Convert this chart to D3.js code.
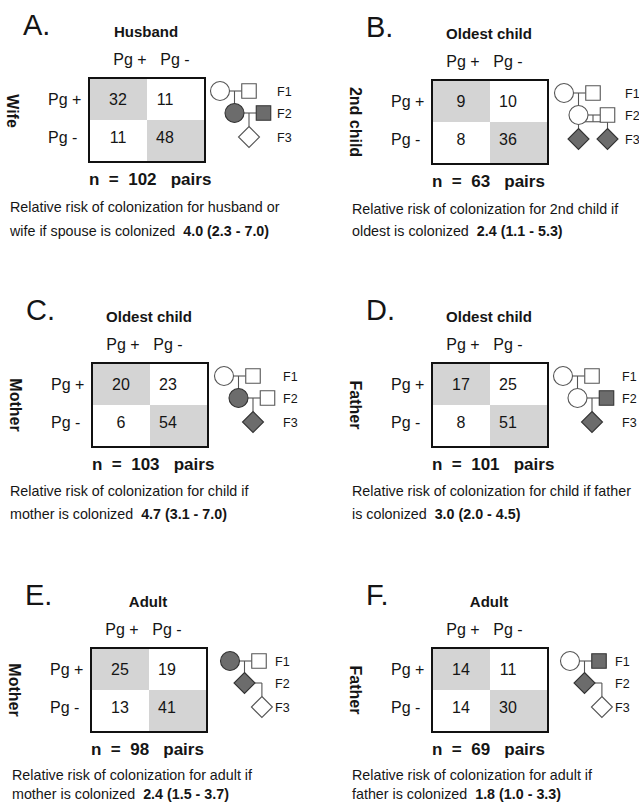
<!DOCTYPE html>
<html>
<head>
<meta charset="utf-8">
<script src="https://cdn.jsdelivr.net/npm/d3@7/dist/d3.min.js"></script>
<style>
  html, body { margin: 0; padding: 0; background: #fff; }
  svg { display: block; }
  text { font-family: "Liberation Sans", Arial, Helvetica, sans-serif; fill: #151515; white-space: pre; }
</style>
</head>
<body>
<div id="chart"></div>
<script>
// ---- data ----
const letters = ["A.", "B.", "C.", "D.", "E.", "F."];
const colTitles = ["Husband", "Oldest child", "Oldest child", "Oldest child", "Adult", "Adult"];
const rowTitles = ["Wife", "2nd child", "Mother", "Father", "Mother", "Father"];
const statusLabels = ["Pg +", "Pg -"];
const genLabels = ["F1", "F2", "F3"];

// 2x2 tables: [row Pg+, row Pg-] x [col Pg+, col Pg-]
const counts = [
  [[32, 11], [11, 48]],
  [[9, 10], [8, 36]],
  [[20, 23], [6, 54]],
  [[17, 25], [8, 51]],
  [[25, 19], [13, 41]],
  [[14, 11], [14, 30]]
];
const nPairs = [102, 63, 103, 101, 98, 69];

const rrLine1 = [
  "Relative risk of colonization for husband or",
  "Relative risk of colonization for 2nd child if",
  "Relative risk of colonization for child if",
  "Relative risk of colonization for child if father",
  "Relative risk of colonization for adult if",
  "Relative risk of colonization for adult if"
];
const rrLine2 = [
  "wife if spouse is colonized  ",
  "oldest is colonized  ",
  "mother is colonized  ",
  "is colonized  ",
  "mother is colonized  ",
  "father is colonized  "
];
const rrValues = ["4.0 (2.3 - 7.0)", "2.4 (1.1 - 5.3)", "4.7 (3.1 - 7.0)",
                  "3.0 (2.0 - 4.5)", "2.4 (1.5 - 3.7)", "1.8 (1.0 - 3.3)"];

// pedigrees: shape, slot (horizontal unit), gen, filled (colonized)
const pedigrees = [
  { members: [
      { shape: "circle", slot: 0, gen: 0, filled: false },
      { shape: "square", slot: 2, gen: 0, filled: false },
      { shape: "circle", slot: 1, gen: 1, filled: true },
      { shape: "square", slot: 3, gen: 1, filled: true },
      { shape: "diamond", slot: 2, gen: 2, filled: false }],
    families: [{ parents: [0, 1], children: [2] }, { parents: [2, 3], children: [4] }] },
  { members: [
      { shape: "circle", slot: 0, gen: 0, filled: false },
      { shape: "square", slot: 2, gen: 0, filled: false },
      { shape: "circle", slot: 1, gen: 1, filled: false },
      { shape: "square", slot: 3, gen: 1, filled: false },
      { shape: "diamond", slot: 1, gen: 2, filled: true },
      { shape: "diamond", slot: 3, gen: 2, filled: true }],
    families: [{ parents: [0, 1], children: [2] }, { parents: [2, 3], children: [4, 5] }] },
  { members: [
      { shape: "circle", slot: 0, gen: 0, filled: false },
      { shape: "square", slot: 2, gen: 0, filled: false },
      { shape: "circle", slot: 1, gen: 1, filled: true },
      { shape: "square", slot: 3, gen: 1, filled: false },
      { shape: "diamond", slot: 2, gen: 2, filled: true }],
    families: [{ parents: [0, 1], children: [2] }, { parents: [2, 3], children: [4] }] },
  { members: [
      { shape: "circle", slot: 0, gen: 0, filled: false },
      { shape: "square", slot: 2, gen: 0, filled: false },
      { shape: "circle", slot: 1, gen: 1, filled: false },
      { shape: "square", slot: 3, gen: 1, filled: true },
      { shape: "diamond", slot: 2, gen: 2, filled: true }],
    families: [{ parents: [0, 1], children: [2] }, { parents: [2, 3], children: [4] }] },
  { members: [
      { shape: "circle", slot: 0, gen: 0, filled: true },
      { shape: "square", slot: 2, gen: 0, filled: false },
      { shape: "diamond", slot: 1, gen: 1, filled: true },
      { shape: "diamond", slot: 2.2, gen: 2, filled: false }],
    families: [{ parents: [0, 1], children: [2] }, { parents: [2], children: [3] }] },
  { members: [
      { shape: "circle", slot: 0, gen: 0, filled: false },
      { shape: "square", slot: 2, gen: 0, filled: true },
      { shape: "diamond", slot: 1, gen: 1, filled: true },
      { shape: "diamond", slot: 2.2, gen: 2, filled: false }],
    families: [{ parents: [0, 1], children: [2] }, { parents: [2], children: [3] }] }
];

// ---- layout (box origin, pedigree origin, label column, small tweaks) ----
const layout = [
  { bx: 89,  by: 78,  pedX: 220, labX: 277, textX: 10,  hdrShift: 10, rowTitleDy: -9, rr: [50, 74] },
  { bx: 432, by: 80,  pedX: 564, labX: 625, textX: 352, hdrShift: 0,  rowTitleDy: 0,  rr: [50, 72] },
  { bx: 92,  by: 363, pedX: 224, labX: 283, textX: 10,  hdrShift: 0,  rowTitleDy: 0,  rr: [49, 72] },
  { bx: 432, by: 363, pedX: 563, labX: 622, textX: 352, hdrShift: 0,  rowTitleDy: 0,  rr: [49, 72] },
  { bx: 91,  by: 648, pedX: 230, labX: 275, textX: 12,  hdrShift: 0,  rowTitleDy: 0,  rr: [48, 67] },
  { bx: 432, by: 648, pedX: 570, labX: 615, textX: 352, hdrShift: 0,  rowTitleDy: 0,  rr: [48, 67] }
];

const W = 639, H = 803;
const BOX_W = 116, BOX_H = 84;
const SHADE = "#d4d4d4";
const DARK = "#6c6c6c";
const R_CIRC = 9.5, SQ = 14.5, DIA = 10.5, UNIT = 14.5;

const svg = d3.select("#chart").append("svg")
  .attr("width", W).attr("height", H)
  .attr("viewBox", `0 0 ${W} ${H}`);

svg.append("rect").attr("width", W).attr("height", H).attr("fill", "#fff");

function halfWidth(m) {
  return m.shape === "circle" ? R_CIRC : m.shape === "square" ? SQ / 2 : DIA;
}

letters.forEach((letter, p) => {
  const L = layout[p];
  const g = svg.append("g").attr("class", "panel");

  const x = d3.scaleBand().domain(statusLabels).range([L.bx, L.bx + BOX_W]);
  const y = d3.scaleBand().domain(statusLabels).range([L.by, L.by + BOX_H]);
  const rowDy = [0, -4];       // lower row text sits a bit high in the original
  const colDx = [0, -11];      // right column numbers sit left of center

  // panel letter
  g.append("text")
    .attr("x", L.bx - 66).attr("y", L.by - 43)
    .style("font-size", "29px")
    .text(letter);

  // column title
  g.append("text")
    .attr("x", L.bx + 57).attr("y", L.by - 41)
    .attr("text-anchor", "middle")
    .style("font-size", "15px").style("font-weight", "bold")
    .text(colTitles[p]);

  // column headers
  g.selectAll(".colhdr")
    .data(statusLabels)
    .join("text")
    .attr("class", "colhdr")
    .attr("x", (d, j) => x(d) + x.bandwidth() / 2 + [2, -11][j] + L.hdrShift)
    .attr("y", L.by - 13)
    .attr("text-anchor", "middle")
    .style("font-size", "16px")
    .text(d => d);

  // row headers
  g.selectAll(".rowhdr")
    .data(statusLabels)
    .join("text")
    .attr("class", "rowhdr")
    .attr("x", L.bx - 41)
    .attr("y", (d, i) => y(d) + y.bandwidth() / 2 + 6 + rowDy[i])
    .style("font-size", "16px")
    .text(d => d);

  // row title (rotated)
  const rtx = L.bx - 82, rty = L.by + BOX_H / 2 + L.rowTitleDy;
  g.append("text")
    .attr("transform", `translate(${rtx},${rty}) rotate(90)`)
    .attr("text-anchor", "middle")
    .style("font-size", "16px").style("font-weight", "bold")
    .text(rowTitles[p]);

  // cells
  const cells = [];
  counts[p].forEach((row, i) => row.forEach((v, j) => cells.push({ i, j, v })));

  g.selectAll(".cell")
    .data(cells)
    .join("rect")
    .attr("class", "cell")
    .attr("x", d => x(statusLabels[d.j]))
    .attr("y", d => y(statusLabels[d.i]))
    .attr("width", x.bandwidth())
    .attr("height", y.bandwidth())
    .attr("fill", d => d.i === d.j ? SHADE : "#fff");

  g.append("rect")
    .attr("x", L.bx).attr("y", L.by)
    .attr("width", BOX_W).attr("height", BOX_H)
    .attr("fill", "none").attr("stroke", "#111").attr("stroke-width", 2);

  g.selectAll(".num")
    .data(cells)
    .join("text")
    .attr("class", "num")
    .attr("x", d => x(statusLabels[d.j]) + x.bandwidth() / 2 + colDx[d.j])
    .attr("y", d => y(statusLabels[d.i]) + y.bandwidth() / 2 + 6 + rowDy[d.i])
    .attr("text-anchor", "middle")
    .style("font-size", "16px")
    .text(d => d.v);

  // n = ... pairs
  g.append("text")
    .attr("x", L.bx).attr("y", L.by + BOX_H + 23)
    .style("font-size", "17px").style("font-weight", "bold")
    .text(`n  =  ${nPairs[p]}   pairs`);

  // relative risk text
  g.append("text")
    .attr("x", L.textX).attr("y", L.by + BOX_H + L.rr[0])
    .style("font-size", "14.3px")
    .text(rrLine1[p]);
  const t2 = g.append("text")
    .attr("x", L.textX).attr("y", L.by + BOX_H + L.rr[1])
    .style("font-size", "14.3px");
  t2.append("tspan").text(rrLine2[p]);
  t2.append("tspan").style("font-weight", "bold").text(rrValues[p]);

  // pedigree
  const ped = pedigrees[p];
  const px = d3.scaleLinear().domain([0, 1]).range([L.pedX, L.pedX + UNIT]);
  const py = d3.scaleLinear().domain([0, 1, 2]).range([L.by + 13, L.by + 35, L.by + 59]);
  const lines = [];
  ped.families.forEach(f => {
    const ps = f.parents.map(k => ped.members[k]);
    const cs = f.children.map(k => ped.members[k]);
    const yp = py(ps[0].gen);
    if (ps.length === 2) {
      lines.push([px(ps[0].slot) + halfWidth(ps[0]), yp, px(ps[1].slot) - halfWidth(ps[1]), yp]);
      const mx = (px(ps[0].slot) + px(ps[1].slot)) / 2;
      if (cs.length === 1) {
        lines.push([mx, yp, mx, py(cs[0].gen) - halfWidth(cs[0])]);
      } else {
        const yc = py(cs[0].gen);
        const bar = (yp + yc - DIA) / 2;
        lines.push([mx, yp, mx, bar]);
        lines.push([d3.min(cs, c => px(c.slot)), bar, d3.max(cs, c => px(c.slot)), bar]);
        cs.forEach(c => lines.push([px(c.slot), bar, px(c.slot), yc - halfWidth(c)]));
      }
    } else {
      const c = cs[0];
      lines.push([px(ps[0].slot) + halfWidth(ps[0]), yp, px(c.slot), yp]);
      lines.push([px(c.slot), yp, px(c.slot), py(c.gen) - halfWidth(c)]);
    }
  });

  g.selectAll(".pline")
    .data(lines)
    .join("line")
    .attr("class", "pline")
    .attr("x1", d => d[0]).attr("y1", d => d[1])
    .attr("x2", d => d[2]).attr("y2", d => d[3])
    .attr("stroke", "#555").attr("stroke-width", 1.1);

  g.selectAll(".sym")
    .data(ped.members)
    .join("path")
    .attr("class", "sym")
    .attr("d", m => {
      const cx = px(m.slot), cy = py(m.gen);
      if (m.shape === "circle") {
        const p2 = d3.path();
        p2.arc(cx, cy, R_CIRC, 0, 2 * Math.PI);
        return p2.toString();
      }
      if (m.shape === "square") {
        const h = SQ / 2;
        return `M${cx - h},${cy - h}h${SQ}v${SQ}h${-SQ}Z`;
      }
      return `M${cx},${cy - DIA}L${cx + DIA},${cy}L${cx},${cy + DIA}L${cx - DIA},${cy}Z`;
    })
    .attr("fill", m => m.filled ? DARK : "#fff")
    .attr("stroke", m => m.filled ? "#333" : "#555")
    .attr("stroke-width", 1.1);

  g.selectAll(".gen")
    .data(genLabels)
    .join("text")
    .attr("class", "gen")
    .attr("x", L.labX)
    .attr("y", (d, k) => py(k) + 4.5)
    .style("font-size", "12.5px")
    .text(d => d);
});
</script>
</body>
</html>
